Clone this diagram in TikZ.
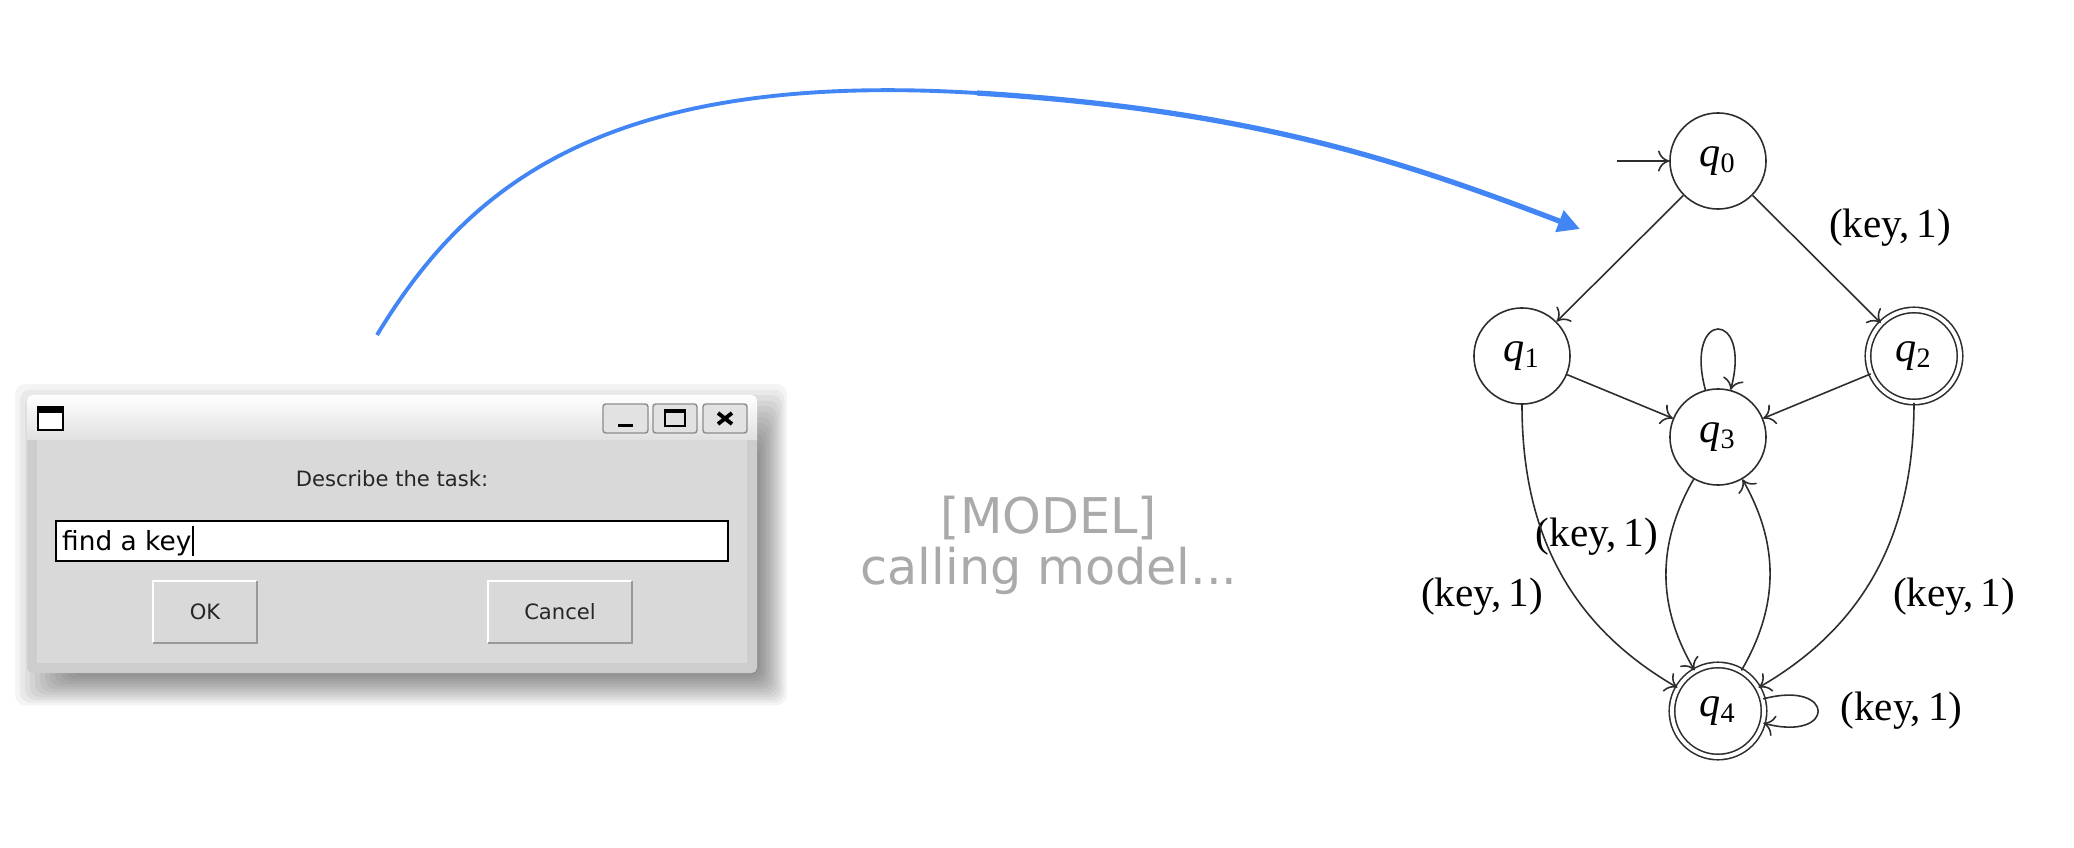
\documentclass[tikz,border=0pt]{standalone}
\usepackage{fontspec}
\setmainfont{Liberation Serif}
\newfontfamily\uifont{DejaVu Sans}
\usetikzlibrary{arrows.meta,positioning}

\definecolor{callblue}{RGB}{66,133,244}
\definecolor{winbody}{RGB}{217,217,217}
\definecolor{winframe}{RGB}{205,205,205}
\definecolor{btnface}{RGB}{226,226,226}
\definecolor{modelgray}{RGB}{170,170,170}
\definecolor{edgegray}{RGB}{45,45,45}

\tikzset{
  uitext/.style={font=\uifont\fontsize{6}{7}\selectfont, text=black!85, inner sep=0pt},
  btn/.style={fill=winbody, minimum height=0.6cm, text=black!85, font=\uifont\fontsize{6}{7}\selectfont},
  titlebtn/.style={fill=btnface, draw=black!45, line width=0.4pt, rounded corners=0.8pt},
  qstate/.style={circle, draw=edgegray, line width=0.45pt, minimum size=0.96cm, inner sep=0pt, font=\fontsize{12}{14}\selectfont},
  qfinal/.style={double, double distance=1.1pt, minimum size=0.92cm},
  trans/.style={draw=edgegray, line width=0.45pt, -{To[length=3.2pt,width=6pt]}},
  klabel/.style={font=\fontsize{11.7}{14}\selectfont}
}

\begin{document}
\begin{tikzpicture}[x=0.01cm, y=-0.01cm]

    \fill[white] (0,0) rectangle (2074,848);
    \useasboundingbox (0,0) rectangle (2074,848);

    \begin{scope}
    \foreach \s in {1,...,12}
        \fill[black, opacity=0.045, rounded corners=3pt] (75-5*\s,450-5.5*\s) rectangle (757+2.5*\s,673+2.7*\s);
    
    \fill[winframe, rounded corners=1.5pt] (27,395) rectangle (757,673);
    \shade[top color=white, middle color=white, bottom color=black!12] (27,440) [rounded corners=1.5pt] -- (27,395) -- (757,395) [sharp corners] -- (757,440) -- cycle;
    \fill[winbody] (37,440) rectangle (747,663);
    
    \draw[line width=0.6pt, fill=white] (38,407) rectangle (63,430);
    \fill[black] (38,407) rectangle (63,413);
    
    \draw[titlebtn] (603,404) rectangle (648,433);
    \draw[titlebtn] (653,404) rectangle (697,433);
    \draw[titlebtn] (703,404) rectangle (747,433);
    \fill[black] (618,424) rectangle (633,427);
    \draw[line width=0.5pt] (665,410) rectangle (685,426);
    \fill[black] (665,410) rectangle (685,413);
    \draw[line width=1.1pt] (718,413) -- (732,424) (732,413) -- (718,424);
    \end{scope}
    
    \node[uitext] (prompt) at (392,479) {Describe the task:};
    \draw[line width=0.6pt, fill=white] (56,521) rectangle (728,561);
    \node[anchor=west, inner xsep=1pt, font=\uifont\fontsize{7.5}{9}\selectfont] (task) at (58,543) {find a key};
    \draw[line width=0.7pt] (193,526) -- (193,556);
    
    \node[btn, minimum width=1.02cm] (ok) at (205,612) {OK};
    \node[btn, minimum width=1.42cm] (cancel) at (560,612) {Cancel};
    \draw[white, line width=0.6pt] (ok.south west) |- (ok.north east) (cancel.south west) |- (cancel.north east);
    \draw[black!40, line width=0.6pt] (ok.south west) -| (ok.north east) (cancel.south west) -| (cancel.north east);
    
    \node[font=\uifont\fontsize{14}{14.5}\selectfont, text=modelgray, align=center] (model) at (1049,545) {[MODEL]\\calling model...};
    
    \coordinate (dlgout) at (377,335);
    \coordinate (arctop) at (977,93);
    \coordinate (autin) at (1580,229);
    \draw[callblue, line width=1.1pt] (dlgout) .. controls (465,190) and (600,70) .. (arctop);
    \draw[callblue, line width=1.5pt, -{Triangle[length=0.22cm,width=0.22cm]}] (arctop) .. controls (1250,110) and (1400,160) .. (autin);
    
    \node[qstate] (q0) at (1718,161) {\textit{q}\textsubscript{0}};
    \node[qstate] (q1) at (1522,356) {\textit{q}\textsubscript{1}};
    \node[qstate, qfinal] (q2) at (1914,356) {\textit{q}\textsubscript{2}};
    \node[qstate] (q3) at (1718,437) {\textit{q}\textsubscript{3}};
    \node[qstate, qfinal] (q4) at (1718,711) {\textit{q}\textsubscript{4}};
    
    \coordinate (init) at (1617,161);
    \draw[trans] (init) -- (q0);
    \draw[trans] (q0) -- (q1);
    \draw[trans] (q0) -- node[klabel, pos=0.5, above right] {(key,\,1)} (q2);
    \draw[trans] (q1) -- (q3);
    \draw[trans] (q2) -- (q3);
    \draw[trans] (q3) to[out=105, in=75, looseness=8.5] (q3);
    \draw[trans] (q3) to[bend right=30] node[klabel, pos=0.3, left] {(key,\,1)} (q4);
    \draw[trans] (q4) to[bend right=30] (q3);
    \draw[trans] (q1) to[out=-90, in=150] node[klabel, pos=0.6, left=2mm] {(key,\,1)} (q4);
    \draw[trans] (q2) to[out=-90, in=30] node[klabel, pos=0.6, right=2mm] {(key,\,1)} (q4);
    \draw[trans] (q4) to[out=15, in=-15, looseness=8] node[klabel, right=1mm] {(key,\,1)} (q4);

\end{tikzpicture}
\end{document}
